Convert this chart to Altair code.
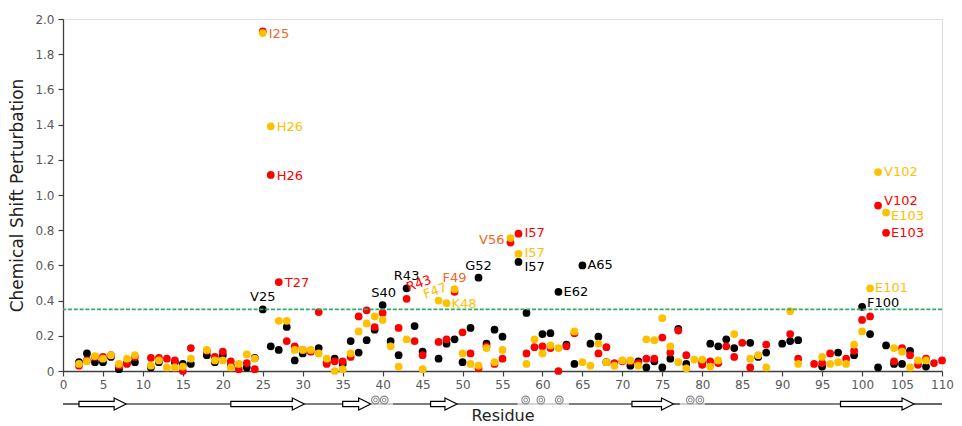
import altair as alt
import pandas as pd

# ---------------- data ----------------
residues = list(range(2, 111))

black_csp = [0.05, 0.10, 0.05, 0.05, 0.08, 0.01, 0.045, 0.05, None, 0.02,
             0.05, None, 0.05, 0.04, 0.04, None, 0.09, 0.05, 0.09, 0.03,
             None, 0.02, 0.075, 0.35, 0.14, 0.12, 0.25, 0.06, 0.10, None,
             0.13, 0.05, 0.07, 0.04, 0.17, 0.105, 0.175, 0.235, 0.375, 0.17,
             0.09, 0.47, 0.255, 0.11, None, 0.07, 0.155, 0.18, 0.05, 0.245,
             0.53, 0.155, 0.235, 0.195, None, 0.62, 0.33, None, 0.21, 0.215,
             0.45, 0.15, 0.04, 0.60, 0.155, 0.195, 0.05, None, None, 0.03,
             0.055, 0.02, 0.055, 0.02, 0.07, 0.24, 0.04, None, 0.05, 0.155,
             0.14, 0.18, 0.13, None, 0.16, 0.08, 0.105, None, 0.155, 0.17,
             0.175, None, None, 0.025, None, 0.105, None, 0.09, 0.365, 0.21,
             0.02, 0.145, 0.04, 0.04, 0.115, None, 0.025, None, None]

red_csp = [0.03, 0.06, 0.08, 0.08, 0.09, 0.03, 0.04, 0.08, None, 0.075,
           0.075, 0.07, 0.06, 0.0, 0.13, None, 0.115, 0.08, 0.11, 0.055,
           0.01, 0.045, 0.01, 1.93, 1.114, 0.505, 0.17, 0.14, 0.12, 0.11,
           0.335, 0.04, 0.055, 0.055, 0.08, 0.31, 0.345, 0.25, 0.33, None,
           0.245, 0.41, 0.17, 0.09, None, 0.165, 0.18, 0.45, 0.22, 0.10,
           0.015, 0.14, 0.04, 0.07, 0.73, 0.78, 0.10, 0.135, 0.14, 0.13,
           0.0, 0.14, 0.215, None, None, 0.10, 0.135, 0.045, 0.055, 0.055,
           0.045, 0.07, 0.07, 0.19, 0.105, 0.23, 0.09, None, 0.035, 0.055,
           0.045, 0.14, 0.08, 0.16, 0.02, None, 0.15, None, None, 0.21,
           0.07, None, 0.04, 0.045, 0.10, None, 0.07, 0.115, 0.29, 0.31,
           0.94, 0.785, 0.055, 0.13, 0.09, 0.035, 0.07, 0.045, 0.06]

orange_csp = [0.04, 0.055, 0.085, 0.07, 0.09, 0.04, 0.07, 0.09, None, 0.03,
              0.06, 0.02, 0.02, 0.025, 0.07, None, 0.12, 0.06, 0.06, 0.02,
              0.04, 0.095, 0.07, 1.92, 1.39, 0.285, 0.285, 0.12, 0.12, 0.12,
              0.10, 0.07, 0.0, 0.01, 0.10, 0.225, 0.27, 0.31, 0.29, 0.14,
              0.025, 0.18, None, 0.01, None, 0.40, 0.385, 0.465, 0.10, 0.04,
              0.03, 0.13, 0.05, 0.12, 0.755, 0.665, 0.04, 0.18, 0.10, 0.145,
              0.13, None, 0.225, 0.05, 0.03, 0.155, 0.05, 0.03, 0.06, 0.06,
              0.03, 0.18, 0.175, 0.30, 0.14, 0.05, 0.015, 0.065, 0.065, 0.025,
              0.06, None, 0.21, None, 0.07, 0.09, 0.02, None, None, 0.34,
              0.04, None, None, 0.08, 0.04, 0.05, 0.04, 0.15, 0.225, 0.47,
              1.13, 0.90, 0.13, 0.11, 0.02, 0.06, 0.06, None, None]

series_names = ["black", "red", "orange"]
series_colors = ["#000000", "#FF0000", "#FFC000"]
threshold = 0.35

x_ticks = list(range(0, 111, 5))
y_ticks = [round(0.2 * i, 1) for i in range(11)]

# secondary structure (residue ranges)
strand_start = [2.0, 21.0, 35.0, 46.0, 71.2, 97.3]
strand_end = [7.9, 30.2, 38.5, 49.3, 76.4, 106.5]
coil_start = [0.0, 7.9, 30.2, 41.3, 49.3, 63.3, 76.4, 80.3, 106.5]
coil_end = [2.0, 21.0, 35.0, 46.0, 56.9, 71.2, 77.2, 97.3, 110.0]
helix_start = [38.5, 56.9, 77.2]
helix_end = [41.3, 63.3, 80.3]
helix_turns = [39.1, 40.2, 57.9, 59.8, 62.1, 78.5, 79.7]

# labelled residues
label_residue = [25, 26, 26, 27, 25, 40, 43, 43, 47, 48, 49, 52, 56, 57, 57, 57,
                 62, 65, 100, 101, 102, 102, 103, 103]
label_series = ["orange", "orange", "red", "red", "black", "black", "black", "red",
                "orange", "orange", "orange", "black", "orange", "red", "orange", "black",
                "black", "black", "black", "orange", "orange", "red", "orange", "red"]
label_text = ["I25", "H26", "H26", "T27", "V25", "S40", "R43", "R43", "F47", "K48",
              "F49", "G52", "V56", "I57", "I57", "I57", "E62", "A65", "F100", "E101",
              "V102", "V102", "E103", "E103"]
label_color = ["#F26522", "#FFC000", "#FF0000", "#FF0000", "#000000", "#000000",
               "#000000", "#FF0000", "#FFC000", "#FFC000", "#F26522", "#000000",
               "#F26522", "#FF0000", "#FFC000", "#000000", "#000000", "#000000",
               "#000000", "#FFC000", "#FFC000", "#FF0000", "#FFC000", "#FF0000"]
# style: (dx, dy, align, baseline, angle)
label_style = [(6, 1, "left", "middle", 0), (6, 1, "left", "middle", 0),
               (6, 1, "left", "middle", 0), (6, 1, "left", "middle", 0),
               (0, -5, "center", "bottom", 0), (1, -5, "center", "bottom", 0),
               (0, -5, "center", "bottom", 0), (4, -3, "left", "bottom", 340),
               (0, -3, "center", "bottom", 340), (5, 1, "left", "middle", 0),
               (0, -4, "center", "bottom", 0), (0, -5, "center", "bottom", 0),
               (-6, 2, "right", "middle", 0), (6, -1, "left", "middle", 0),
               (6, -1, "left", "middle", 0), (6, 5, "left", "middle", 0),
               (5, 0, "left", "middle", 0), (5, 0, "left", "middle", 0),
               (5, -4, "left", "middle", 0), (5, 0, "left", "middle", 0),
               (6, 0, "left", "middle", 0), (6, -5, "left", "middle", 0),
               (5, 3, "left", "middle", 0), (5, 0, "left", "middle", 0)]

# ---------------- build ----------------
FONT = "DejaVu Sans"
W, H = 879, 352
LINE_Y = 385

series_vals = dict(zip(series_names, [black_csp, red_csp, orange_csp]))
rows = []
for name in series_names:
    for r, v in zip(residues, series_vals[name]):
        if v is not None:
            rows.append({"residue": r, "csp": v, "series": name})
pts_df = pd.DataFrame(rows)

xscale = alt.Scale(domain=[0, 110], nice=False, zero=False)
yscale = alt.Scale(domain=[0, 2.0], nice=False)

xaxis = alt.Axis(values=x_ticks, title="Residue", grid=False, labelFontSize=12,
                 labelColor="#595959", labelFont=FONT, tickSize=5, tickColor="#404040",
                 domainColor="#404040", domainWidth=1.3, tickWidth=1.2, labelPadding=3,
                 labelOverlap=False, labelFlush=False,
                 titleFont=FONT, titleFontSize=16, titleFontWeight="normal",
                 titleColor="#222222", titlePadding=17)
yaxis = alt.Axis(values=y_ticks, title="Chemical Shift Perturbation", grid=False,
                 labelFontSize=12, labelColor="#595959", labelFont=FONT, tickSize=5,
                 tickColor="#404040", domainColor="#404040", domainWidth=1.3, tickWidth=1.2,
                 labelOverlap=False, labelFlush=False, labelPadding=4, tickCount=11,
                 labelExpr="datum.value == 0 ? '0' : format(datum.value, '.1f')",
                 titleFont=FONT, titleFontSize=17, titleFontWeight="normal",
                 titleColor="#222222", titlePadding=8)


def X(field):
    return alt.X(field, scale=xscale, axis=xaxis)


def Y(field):
    return alt.Y(field, scale=yscale, axis=yaxis)


points = alt.Chart(pts_df).mark_circle(size=60, opacity=1).encode(
    x=X("residue:Q"),
    y=Y("csp:Q"),
    color=alt.Color("series:N", scale=alt.Scale(domain=series_names, range=series_colors),
                    legend=None),
)

thr = alt.Chart(pd.DataFrame({"t": [threshold]})).mark_rule(
    color="#2EAD6B", strokeDash=[4, 1.8], strokeWidth=1.8
).encode(y=Y("t:Q"))

strand_df = pd.DataFrame({"s": strand_start, "e": strand_end})
coil_df = pd.DataFrame({"s": coil_start, "e": coil_end})
helix_df = pd.DataFrame({"s": helix_start, "e": helix_end})
turn_df = pd.DataFrame({"t": helix_turns})

coils = alt.Chart(coil_df).mark_rule(color="#000000", strokeWidth=1.2).encode(
    x=X("s:Q"), x2="e:Q", y=alt.value(LINE_Y))
helix_line = alt.Chart(helix_df).mark_rule(color="#AAAAAA", strokeWidth=1.2).encode(
    x=X("s:Q"), x2="e:Q", y=alt.value(LINE_Y))
turns_outer = alt.Chart(turn_df).mark_point(shape="circle", size=60, filled=False,
                                            color="#8C8C8C", strokeWidth=1.1, opacity=1).encode(
    x=X("t:Q"), y=alt.value(LINE_Y - 4))
turns_inner = alt.Chart(turn_df).mark_point(shape="circle", size=14, filled=False,
                                            color="#8C8C8C", strokeWidth=1.0, opacity=1).encode(
    x=X("t:Q"), y=alt.value(LINE_Y - 4))
shafts = alt.Chart(strand_df).mark_rect(fill="white", stroke="black", strokeWidth=1.2,
                                         x2Offset=-11).encode(
    x=X("s:Q"), x2="e:Q", y=alt.value(LINE_Y - 2.6), y2=alt.value(LINE_Y + 2.6))
heads = alt.Chart(strand_df).mark_point(shape="M -2 -1 L 0 0 L -2 1 Z", size=144, filled=True,
                                         fill="white", stroke="black", strokeWidth=1.2,
                                         opacity=1).encode(
    x=X("e:Q"), y=alt.value(LINE_Y))
joints = alt.Chart(strand_df).mark_rect(fill="white", strokeWidth=0, xOffset=-13,
                                         x2Offset=-10).encode(
    x=X("e:Q"), x2="e:Q", y=alt.value(LINE_Y - 1.9), y2=alt.value(LINE_Y + 1.9))

label_layers = []
for r, s, t, c, st in zip(label_residue, label_series, label_text, label_color, label_style):
    v = series_vals[s][residues.index(r)]
    dx, dy, al, bl, ang = st
    label_layers.append(
        alt.Chart(pd.DataFrame({"residue": [r], "csp": [v], "lab": [t]})).mark_text(
            dx=dx, dy=dy, align=al, baseline=bl, angle=ang, color=c,
            font=FONT, fontSize=13
        ).encode(x=X("residue:Q"), y=Y("csp:Q"), text="lab:N")
    )

chart = alt.layer(
    points, thr, coils, helix_line, turns_outer, turns_inner, shafts, heads, joints,
    *label_layers
).properties(
    width=W, height=H,
    autosize=alt.AutoSizeParams(type="none"),
    padding={"left": 55, "top": 11, "right": 12, "bottom": 55},
).configure_view(stroke=None).configure(font=FONT)

chart.save("out.html", embed_options={"renderer": "svg", "actions": False})
